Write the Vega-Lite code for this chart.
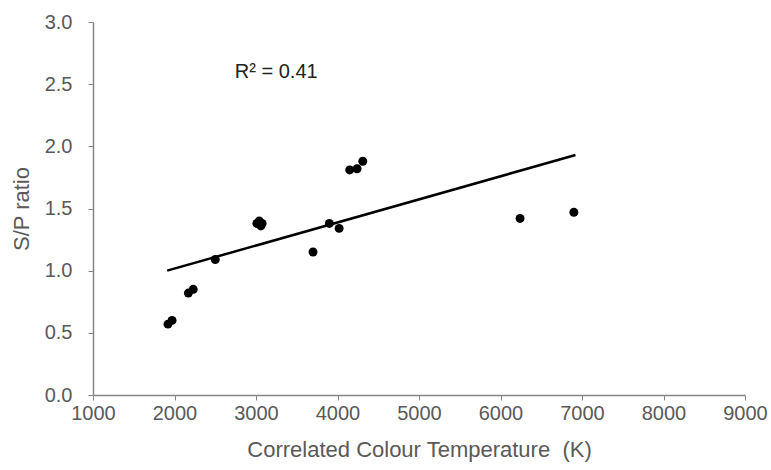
{
  "$schema": "https://vega.github.io/schema/vega-lite/v6.json",
  "autosize": "none",
  "width": 652,
  "height": 373,
  "padding": {"left": 93, "top": 22, "right": 26, "bottom": 75},
  "background": "white",
  "config": {
    "view": {"stroke": null},
    "font": "Liberation Sans"
  },
  "datasets": {
    "points": [
      {"cct": 1920, "sp": 0.57},
      {"cct": 1970, "sp": 0.60},
      {"cct": 2170, "sp": 0.82},
      {"cct": 2230, "sp": 0.85},
      {"cct": 2500, "sp": 1.09},
      {"cct": 3010, "sp": 1.38},
      {"cct": 3040, "sp": 1.40},
      {"cct": 3075, "sp": 1.38},
      {"cct": 3060, "sp": 1.36},
      {"cct": 3700, "sp": 1.15},
      {"cct": 3900, "sp": 1.38},
      {"cct": 4020, "sp": 1.34},
      {"cct": 4150, "sp": 1.81},
      {"cct": 4240, "sp": 1.82},
      {"cct": 4310, "sp": 1.88},
      {"cct": 6240, "sp": 1.42},
      {"cct": 6900, "sp": 1.47}
    ],
    "trend": [
      {"cct": 1910, "sp": 1.0},
      {"cct": 6920, "sp": 1.93}
    ],
    "label": [
      {"cct": 2740, "sp": 2.6, "text": "R² = 0.41"}
    ]
  },
  "layer": [
    {
      "data": {"name": "trend"},
      "mark": {"type": "line", "color": "black", "strokeWidth": 2.5},
      "encoding": {
        "x": {
          "field": "cct", "type": "quantitative",
          "scale": {"domain": [1000, 9000], "nice": false},
          "axis": {
            "title": "Correlated Colour Temperature\u00a0 (K)",
            "values": [1000, 2000, 3000, 4000, 5000, 6000, 7000, 8000, 9000],
            "format": "d",
            "grid": false,
            "domainColor": "#868686",
            "domainWidth": 1.5,
            "tickColor": "#868686",
            "tickSize": 5,
            "labelFont": "Liberation Sans",
            "labelFontSize": 20,
            "labelColor": "#595959",
            "labelPadding": 3,
            "titleFont": "Liberation Sans",
            "titleFontSize": 22,
            "titleFontWeight": "normal",
            "titleColor": "#595959",
            "titlePadding": 16,
            "labelFlush": false
          }
        },
        "y": {
          "field": "sp", "type": "quantitative",
          "scale": {"domain": [0, 3], "nice": false},
          "axis": {
            "title": "S/P ratio",
            "values": [0, 0.5, 1, 1.5, 2, 2.5, 3],
            "format": ".1f",
            "grid": false,
            "domainColor": "#868686",
            "domainWidth": 1.5,
            "tickColor": "#868686",
            "tickSize": 5,
            "labelFont": "Liberation Sans",
            "labelFontSize": 20,
            "labelColor": "#595959",
            "labelPadding": 16,
            "titleFont": "Liberation Sans",
            "titleFontSize": 22,
            "titleFontWeight": "normal",
            "titleColor": "#595959",
            "titlePadding": 11,
            "labelFlush": false
          }
        }
      }
    },
    {
      "data": {"name": "points"},
      "mark": {"type": "circle", "color": "black", "opacity": 1, "size": 80},
      "encoding": {
        "x": {"field": "cct", "type": "quantitative"},
        "y": {"field": "sp", "type": "quantitative"}
      }
    },
    {
      "data": {"name": "label"},
      "mark": {"type": "text", "align": "left", "baseline": "middle", "fontSize": 20, "color": "#222222", "font": "Liberation Sans"},
      "encoding": {
        "x": {"field": "cct", "type": "quantitative"},
        "y": {"field": "sp", "type": "quantitative"},
        "text": {"field": "text"}
      }
    }
  ]
}
